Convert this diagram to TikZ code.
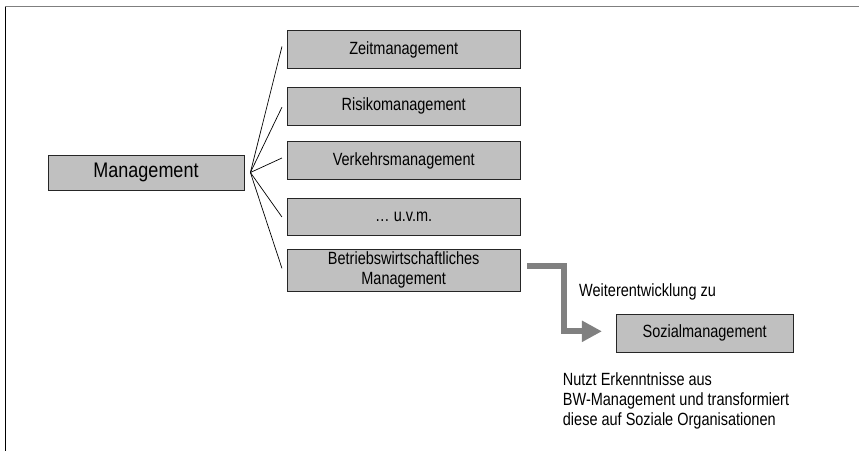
\documentclass[tikz,border=0pt]{standalone}
\usepackage{fontspec}
\usepackage{graphicx}
\setmainfont{Liberation Sans}
\usetikzlibrary{arrows.meta}
\definecolor{boxgray}{HTML}{C0C0C0}
\definecolor{arrowgray}{HTML}{808080}
\definecolor{framegray}{HTML}{7F7F7F}
\newcommand\vstr[1]{\scalebox{1}[1.22]{#1}}
\newcommand\vstrbig[1]{\scalebox{1}[1.17]{#1}}
\begin{document}
\begin{tikzpicture}[x=1pt,y=-1pt,
  box/.style={draw=black!85, fill=boxgray, line width=0.8pt, inner sep=0pt, align=center,
    font=\fontsize{14.5}{20}\selectfont},
  subbox/.style={box, minimum width=232.7pt},
  fanline/.style={draw=black, line width=0.7pt},
  plain/.style={inner sep=0pt, font=\fontsize{14.5}{20}\selectfont},
  devarrow/.style={draw=arrowgray, line width=6pt, -{Triangle[length=20pt,width=20pt]}}
]
\useasboundingbox (0,0) rectangle (859,451);
% frame
\draw[framegray, line width=1.5pt] (5,6.5) -- (859,6.5);
\draw[black, line width=1pt] (5.5,7) -- (5.5,451);

% nodes
\node[box, minimum width=196pt, minimum height=35pt, font=\fontsize{18}{21}\selectfont] (mgmt) at (146,172.5) {\vstrbig{Management}};
\node[subbox, minimum height=37.6pt] (zeit) at (403.7,49.5) {\vstr{Zeitmanagement}};
\node[subbox, minimum height=37.6pt] (risiko) at (403.7,106.2) {\vstr{Risikomanagement}};
\node[subbox, minimum height=37.6pt] (verkehr) at (403.7,160.5) {\vstr{Verkehrsmanagement}};
\node[subbox, minimum height=37.4pt] (uvm) at (403.7,217) {\vstr{\dots{} u.v.m.}};
\node[subbox, minimum height=42.7pt] (bw) at (403.7,270.3) {\vstr{Betriebswirtschaftliches}\\\vstr{Management}};
\node[box, minimum width=177.3pt, minimum height=38pt] (soz) at (704.7,333) {\vstr{Sozialmanagement}};

% fan
\coordinate (fan) at ([xshift=6pt]mgmt.east);
\draw[fanline] (fan) -- ([xshift=-5pt,yshift=3pt]zeit.west);
\draw[fanline] (fan) -- ([xshift=-5pt,yshift=-1pt]risiko.west);
\draw[fanline] (fan) -- ([xshift=-5pt,yshift=2.5pt]verkehr.west);
\draw[fanline] (fan) -- ([xshift=-5pt]uvm.west);
\draw[fanline] (fan) -- ([xshift=-5pt,yshift=2pt]bw.west);

% development arrow
\coordinate (a1) at ([xshift=7pt,yshift=4pt]bw.east);
\coordinate (a3) at ([xshift=-13.7pt,yshift=1.7pt]soz.west);
\draw[devarrow] (a1) -- (563.7,266.3) -- (563.7,331.3) -- (a3);

% labels
\node[plain, anchor=west] (weiter) at (579,291.7) {\vstr{Weiterentwicklung zu}};
\node[plain, anchor=west, align=left] (nutzt) at (562.7,401) {\vstr{Nutzt Erkenntnisse aus}\\\vstr{BW-Management und transformiert}\\\vstr{diese auf Soziale Organisationen}};
\end{tikzpicture}
\end{document}
